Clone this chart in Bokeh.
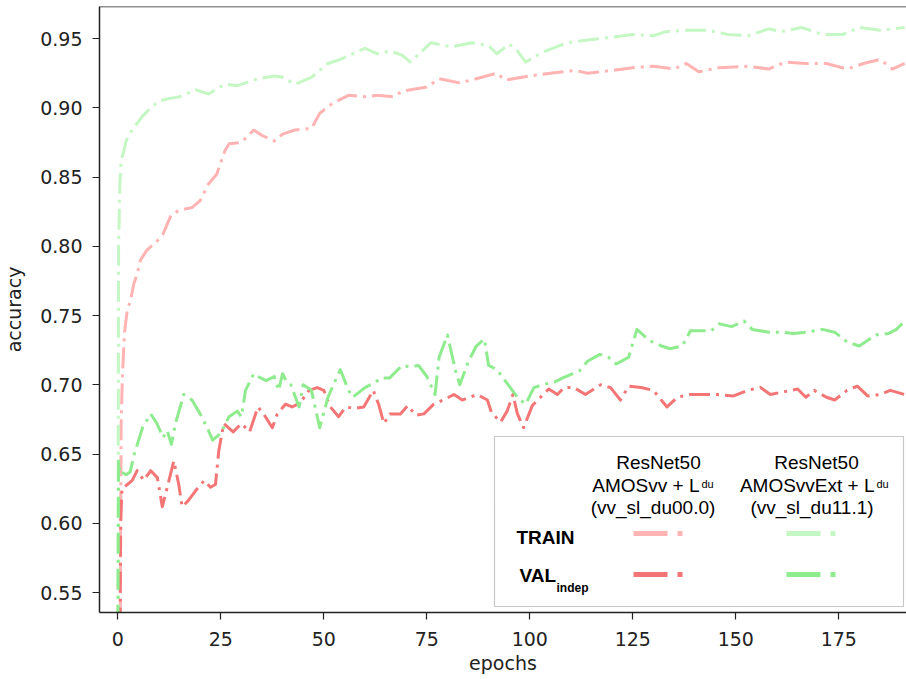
from bokeh.plotting import figure
from bokeh.models import Range1d, FixedTicker, Span, BoxAnnotation, Label, NumeralTickFormatter
from bokeh.embed import file_html
from bokeh.resources import INLINE

# ---------------- data ----------------
epochs_train_du00 = [0, 0.6, 0.8, 1.1, 1.6, 2.3, 3.1, 3.9, 4.7, 5.5, 7, 9.6, 11, 13, 15, 18, 20, 22, 24, 26,
                     27, 30, 33, 35, 38, 40, 43, 47, 49, 52, 56, 60, 63, 67, 69, 75, 78, 83, 87, 92,
                     94, 100, 105, 111, 114, 120, 125, 130, 135, 138, 141, 146, 153, 158, 162, 167, 172, 177, 181, 185,
                     188, 191]
acc_train_du00 = [0.40, 0.52, 0.67, 0.705, 0.737, 0.754, 0.761, 0.773, 0.780, 0.790, 0.797, 0.804, 0.809, 0.823, 0.826, 0.828, 0.833, 0.845, 0.852, 0.869,
                  0.874, 0.875, 0.884, 0.880, 0.876, 0.881, 0.884, 0.885, 0.896, 0.903, 0.909, 0.908, 0.909, 0.908, 0.912, 0.915, 0.921, 0.918, 0.921, 0.925,
                  0.920, 0.923, 0.925, 0.927, 0.925, 0.927, 0.929, 0.930, 0.928, 0.932, 0.926, 0.929, 0.930, 0.928, 0.933, 0.932, 0.932, 0.928, 0.932, 0.935,
                  0.928, 0.932]

epochs_train_du11 = [0, 0.2, 0.5, 0.8, 1.5, 2, 3, 4, 6, 8, 10, 13, 15, 19, 22, 26, 29, 34, 38, 40,
                     43, 47, 51, 54, 57, 60, 63, 66, 69, 71, 76, 81, 86, 90, 92, 95, 97, 99, 103, 109,
                     114, 120, 125, 130, 133, 138, 143, 148, 153, 158, 161, 166, 171, 176, 180, 185, 191]
acc_train_du11 = [0.50, 0.80, 0.845, 0.862, 0.869, 0.876, 0.882, 0.886, 0.894, 0.900, 0.905, 0.907, 0.908, 0.913, 0.910, 0.917, 0.916, 0.921, 0.923, 0.922,
                  0.917, 0.922, 0.932, 0.935, 0.939, 0.943, 0.939, 0.941, 0.938, 0.933, 0.947, 0.944, 0.947, 0.945, 0.939, 0.946, 0.941, 0.933, 0.940, 0.947,
                  0.949, 0.951, 0.953, 0.952, 0.955, 0.956, 0.956, 0.953, 0.952, 0.957, 0.955, 0.958, 0.953, 0.953, 0.958, 0.956, 0.958]

epochs_val_du00 = [0, 0.5, 0.7, 1, 2.3, 3.5, 4.7, 6.3, 8, 9.6, 10.8, 12, 13.6, 14.8, 15.6, 17, 19, 21, 22.5, 23.7,
                   24.5, 25.7, 28, 30, 32, 34, 35.4, 37.5, 38.7, 40.7, 42.3, 44.3, 46.4, 48.4, 50, 51.6, 53.6, 55.3, 57.3, 59.7,
                   62, 63.3, 64.6, 66, 68.6, 70.4, 72.3, 74.3, 76.7, 79, 81.6, 83.6, 87.2, 89.7, 90.7, 92.9, 94.5, 95.9, 97, 98.5,
                   100.6, 102.6, 104.6, 106.7, 108.3, 110.7, 113.5, 117.2, 119.6, 122, 124, 127, 130, 133.3, 135.8, 139, 142, 145.5, 149.5, 152.8,
                   156, 158.4, 161.7, 165, 167, 169, 172, 174, 177, 179.5, 182, 185, 187.5, 191]
acc_val_du00 = [0.42, 0.50, 0.600, 0.625, 0.628, 0.631, 0.638, 0.631, 0.638, 0.633, 0.612, 0.626, 0.645, 0.628, 0.612, 0.616, 0.624, 0.631, 0.626, 0.628,
                0.652, 0.672, 0.666, 0.672, 0.666, 0.684, 0.679, 0.669, 0.679, 0.686, 0.684, 0.687, 0.696, 0.698, 0.696, 0.684, 0.677, 0.684, 0.683, 0.684,
                0.696, 0.686, 0.672, 0.679, 0.679, 0.685, 0.678, 0.679, 0.686, 0.689, 0.693, 0.689, 0.693, 0.689, 0.680, 0.673, 0.681, 0.693, 0.679, 0.669,
                0.685, 0.691, 0.697, 0.693, 0.698, 0.698, 0.693, 0.700, 0.698, 0.689, 0.699, 0.698, 0.696, 0.684, 0.691, 0.693, 0.693, 0.693, 0.692, 0.696,
                0.698, 0.693, 0.695, 0.697, 0.691, 0.696, 0.691, 0.689, 0.696, 0.699, 0.692, 0.693, 0.696, 0.693]

epochs_val_du11 = [0, 0.2, 0.5, 1, 2, 3, 4, 6, 8, 9.5, 11, 12, 13, 14, 16, 18, 20, 22, 23, 25,
                   27, 29, 30, 31, 33, 34, 36, 38, 39, 40, 41, 42, 44, 45, 47, 49, 51, 54, 56, 57,
                   60, 62, 64, 66, 69, 71, 73, 75, 77, 78, 80, 82, 83, 85, 87, 89, 90, 92, 94, 95,
                   97, 99, 101, 103, 106, 108, 112, 114, 117, 119, 121, 124, 126, 129, 132, 134, 137, 139, 141, 144,
                   146, 149, 152, 154, 158, 161, 164, 167, 171, 174, 177, 180, 184, 187, 189, 191]
acc_val_du11 = [0.50, 0.645, 0.636, 0.637, 0.635, 0.637, 0.650, 0.669, 0.679, 0.672, 0.662, 0.667, 0.657, 0.672, 0.693, 0.689, 0.679, 0.667, 0.660, 0.665,
                0.677, 0.681, 0.677, 0.696, 0.708, 0.706, 0.703, 0.706, 0.696, 0.708, 0.702, 0.700, 0.684, 0.700, 0.696, 0.669, 0.691, 0.711, 0.696, 0.691,
                0.698, 0.701, 0.705, 0.705, 0.714, 0.713, 0.714, 0.706, 0.693, 0.720, 0.736, 0.710, 0.700, 0.716, 0.728, 0.733, 0.714, 0.711, 0.703, 0.699,
                0.691, 0.686, 0.698, 0.700, 0.702, 0.705, 0.710, 0.717, 0.722, 0.720, 0.715, 0.720, 0.740, 0.732, 0.728, 0.726, 0.728, 0.739, 0.739, 0.739,
                0.744, 0.742, 0.746, 0.740, 0.738, 0.738, 0.737, 0.738, 0.740, 0.738, 0.731, 0.728, 0.736, 0.737, 0.740, 0.746]

x_ticks = [0, 25, 50, 75, 100, 125, 150, 175]
y_ticks = [0.55, 0.60, 0.65, 0.70, 0.75, 0.80, 0.85, 0.90, 0.95]

col_headers = [("ResNet50", "AMOSvv + L", "du", "(vv_sl_du00.0)"),
               ("ResNet50", "AMOSvvExt + L", "du", "(vv_sl_du11.1)")]
row_labels = ["TRAIN", "VAL"]
val_sub = "indep"

# ---------------- styles ----------------
C_TRAIN_R = "#ffb3b3"
C_VAL_R = "#f37575"
C_TRAIN_G = "#c4f7c4"
C_VAL_G = "#8eeb8e"
AX = "#222222"

W, H = 906, 679
ML, MR, MT, MB = 99, 0, 6, 67
# frame in page pixels (page has no margin): x 99..906, y 6..612
FL, FR, FT, FB = ML, W - MR, MT, H - MB
PX_PER_EPOCH = 4.12
X_ZERO_PX = 117.3
X0 = (FL - X_ZERO_PX) / PX_PER_EPOCH
X1 = (FR - X_ZERO_PX) / PX_PER_EPOCH
Y0 = 0.5356
Y1 = Y0 + (FB - FT) / 69.25 * 0.05


def px_x(px):
    return X0 + (px - FL) / (FR - FL) * (X1 - X0)


def px_y(py):
    return Y1 - (py - FT) / (FB - FT) * (Y1 - Y0)


p = figure(width=W, height=H, output_backend="svg", toolbar_location=None,
           x_range=Range1d(X0, X1), y_range=Range1d(Y0, Y1),
           min_border_left=ML, min_border_right=MR, min_border_top=MT, min_border_bottom=MB)
p.outline_line_color = None
p.xgrid.visible = False
p.ygrid.visible = False
p.background_fill_color = "white"
p.border_fill_color = "white"

DASH = "21 6 3 6"
LW = 3
series = [
    (epochs_train_du00, acc_train_du00, C_TRAIN_R),
    (epochs_train_du11, acc_train_du11, C_TRAIN_G),
    (epochs_val_du00, acc_val_du00, C_VAL_R),
    (epochs_val_du11, acc_val_du11, C_VAL_G),
]
for xs, ys, c in series:
    p.line(xs, ys, line_color=c, line_width=LW, line_dash=DASH, line_cap="butt", line_join="round")

for ax in (p.xaxis[0], p.yaxis[0]):
    ax.axis_line_color = AX
    ax.axis_line_width = 1.5
    ax.major_tick_line_color = AX
    ax.major_tick_line_width = 1.2
    ax.major_tick_out = 7
    ax.major_tick_in = 0
    ax.minor_tick_line_color = None
    ax.major_label_text_font = "DejaVu Sans"
    ax.major_label_text_font_size = "19px"
    ax.major_label_text_color = AX
    ax.axis_label_text_font = "DejaVu Sans"
    ax.axis_label_text_font_size = "19px"
    ax.axis_label_text_font_style = "normal"
    ax.axis_label_text_color = AX

p.xaxis.ticker = FixedTicker(ticks=x_ticks)
p.yaxis.ticker = FixedTicker(ticks=y_ticks)
p.yaxis.formatter = NumeralTickFormatter(format="0.00")
p.xaxis.axis_label = "epochs"
p.yaxis.axis_label = "accuracy"
p.xaxis.major_label_standoff = 12
p.yaxis.major_label_standoff = 10
p.xaxis.axis_label_standoff = 3
p.yaxis.axis_label_standoff = 12

# top spine
p.add_layout(Span(location=Y1, dimension="width", line_color=AX, line_width=1.5))

# ---------------- custom legend table ----------------
p.add_layout(BoxAnnotation(left=px_x(494), right=px_x(903), top=px_y(436), bottom=px_y(606),
                           fill_color="white", fill_alpha=1.0, line_color="#444444", line_width=1.2))

LF = "Liberation Sans"
centers = [(658, 652.5, 699), (816, 811.5, 874)]
for (h1, h2, sup, h3), (c1, c3, r2) in zip(col_headers, centers):
    p.add_layout(Label(x=px_x(c1), y=px_y(462), text=h1, text_align="center", text_baseline="middle",
                       text_font=LF, text_font_size="19px", text_color="black"))
    p.add_layout(Label(x=px_x(r2), y=px_y(485), text=h2, text_align="right", text_baseline="middle",
                       text_font=LF, text_font_size="19px", text_color="black"))
    p.add_layout(Label(x=px_x(r2 + 2), y=px_y(477), text=sup, text_align="left", text_baseline="top",
                       text_font=LF, text_font_size="11px", text_color="black"))
    p.add_layout(Label(x=px_x(c3), y=px_y(507), text=h3, text_align="center", text_baseline="middle",
                       text_font=LF, text_font_size="19px", text_color="black"))

p.add_layout(Label(x=px_x(516), y=px_y(537), text=row_labels[0], text_align="left", text_baseline="middle",
                   text_font=LF, text_font_size="19px", text_font_style="bold", text_color="black"))
p.add_layout(Label(x=px_x(519), y=px_y(575), text=row_labels[1], text_align="left", text_baseline="middle",
                   text_font=LF, text_font_size="19px", text_font_style="bold", text_color="black"))
p.add_layout(Label(x=px_x(556), y=px_y(587), text=val_sub, text_align="left", text_baseline="middle",
                   text_font=LF, text_font_size="12px", text_font_style="bold", text_color="black"))

LDASH = "34 10 5 10"
for (xa, xb), (ct, cv) in zip([(633, 683), (786, 836)], [(C_TRAIN_R, C_VAL_R), (C_TRAIN_G, C_VAL_G)]):
    p.line([px_x(xa), px_x(xb)], [px_y(533), px_y(533)], line_color=ct, line_width=5,
           line_dash=LDASH, line_cap="butt", level="overlay")
    p.line([px_x(xa), px_x(xb)], [px_y(574), px_y(574)], line_color=cv, line_width=5,
           line_dash=LDASH, line_cap="butt", level="overlay")

open("out.html", "w").write(file_html(p, INLINE))
